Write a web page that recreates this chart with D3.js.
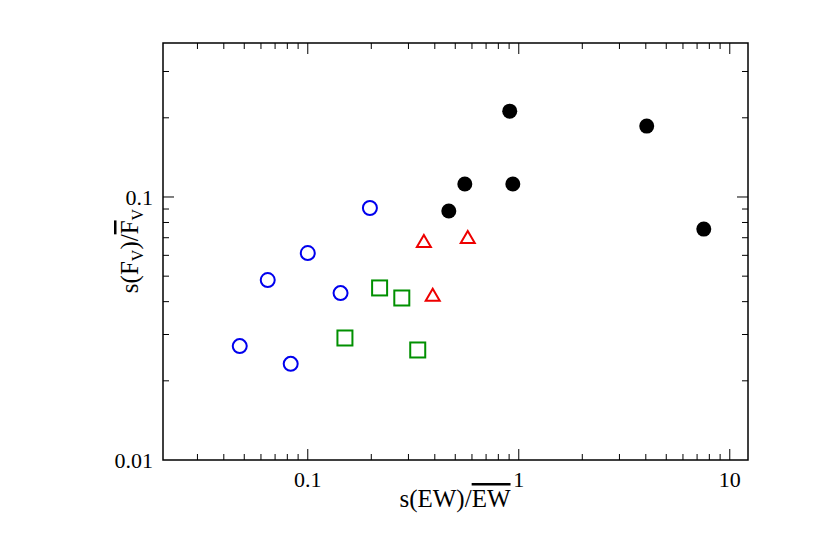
<!DOCTYPE html><html><head><meta charset="utf-8">
<script src="https://cdn.jsdelivr.net/npm/d3@7"></script>
<style>body{margin:0;background:#fff}text{font-family:"Liberation Serif","DejaVu Serif",serif}</style></head><body>
<svg id="c" width="820" height="558"></svg>
<script>
const xTicks=[0.1,1,10], xTickLabels=["0.1","1","10"];
const yTicks=[0.01,0.1], yTickLabels=["0.01","0.1"];
const filledX=[0.906,0.555,0.937,0.466,4.04,7.53];
const filledY=[0.212,0.112,0.112,0.0885,0.186,0.0755];
const circX=[0.197,0.1,0.0646,0.143,0.0476,0.083];
const circY=[0.0908,0.0612,0.0483,0.0431,0.0271,0.0232];
const sqX=[0.219,0.279,0.150,0.332];
const sqY=[0.0451,0.0413,0.0291,0.0262];
const triX=[0.355,0.573,0.391];
const triY=[0.0675,0.0699,0.0421];

const svg=d3.select("#c");
const L=163,R=748,T=43,B=460;
const x=d3.scaleLog().domain([0.0206,12.2]).range([L,R]);
const y=d3.scaleLog().domain([0.01,0.385]).range([B,T]);
svg.append("rect").attr("x",L).attr("y",T).attr("width",R-L).attr("height",B-T).attr("fill","none").attr("stroke","#000").attr("stroke-width",1.5);
const minorX=[],minorY=[];
for(let e=-2;e<=1;e++)for(let m=1;m<10;m++){const v=m*10**e;if(v>x.domain()[0]&&v<x.domain()[1])minorX.push([v,m===1]);if(v>=y.domain()[0]&&v<y.domain()[1])minorY.push([v,m===1]);}
const g=svg.append("g").attr("stroke","#000").attr("stroke-width",1);
minorX.forEach(([v,maj])=>{const l=maj?11:6,px=x(v);g.append("line").attr("x1",px).attr("x2",px).attr("y1",B).attr("y2",B-l);g.append("line").attr("x1",px).attr("x2",px).attr("y1",T).attr("y2",T+l);});
minorY.forEach(([v,maj])=>{const l=maj?11:6,py=y(v);if(py>=B-0.5)return;g.append("line").attr("y1",py).attr("y2",py).attr("x1",L).attr("x2",L+l);g.append("line").attr("y1",py).attr("y2",py).attr("x1",R).attr("x2",R-l);});
xTicks.forEach((v,i)=>svg.append("text").attr("x",x(v)).attr("y",B+27).attr("text-anchor","middle").attr("font-size",22).text(xTickLabels[i]));
yTicks.forEach((v,i)=>svg.append("text").attr("x",L-10).attr("y",y(v)+8).attr("text-anchor","end").attr("font-size",22).text(yTickLabels[i]));
const xl=svg.append("text").attr("x",455).attr("y",507).attr("text-anchor","middle").attr("font-size",25);
xl.append("tspan").text("s(EW)/");xl.append("tspan").attr("text-decoration","overline").text("EW");
const yl=svg.append("text").attr("transform","translate(138,251) rotate(-90)").attr("text-anchor","middle").attr("font-size",25);
yl.append("tspan").text("s(F");yl.append("tspan").attr("font-size",16).attr("dy",5).text("V");yl.append("tspan").attr("dy",-5).text(")/");
yl.append("tspan").attr("text-decoration","overline").text("F");yl.append("tspan").attr("font-size",16).attr("dy",5).text("V");
svg.append("g").selectAll("circle").data(filledX).join("circle").attr("cx",d=>x(d)).attr("cy",(d,i)=>y(filledY[i])).attr("r",7.5).attr("fill","#000");
svg.append("g").selectAll("circle").data(circX).join("circle").attr("cx",d=>x(d)).attr("cy",(d,i)=>y(circY[i])).attr("r",7).attr("fill","none").attr("stroke","#0000ee").attr("stroke-width",2);
svg.append("g").selectAll("rect").data(sqX).join("rect").attr("x",d=>x(d)-7.5).attr("y",(d,i)=>y(sqY[i])-7.5).attr("width",15).attr("height",15).attr("fill","none").attr("stroke","#009000").attr("stroke-width",2);
svg.append("g").selectAll("path").data(triX).join("path").attr("transform",(d,i)=>`translate(${x(d)},${y(triY[i])})`).attr("d","M0,-7L7,5L-7,5Z").attr("fill","none").attr("stroke","#ee0000").attr("stroke-width",2);
</script></body></html>
